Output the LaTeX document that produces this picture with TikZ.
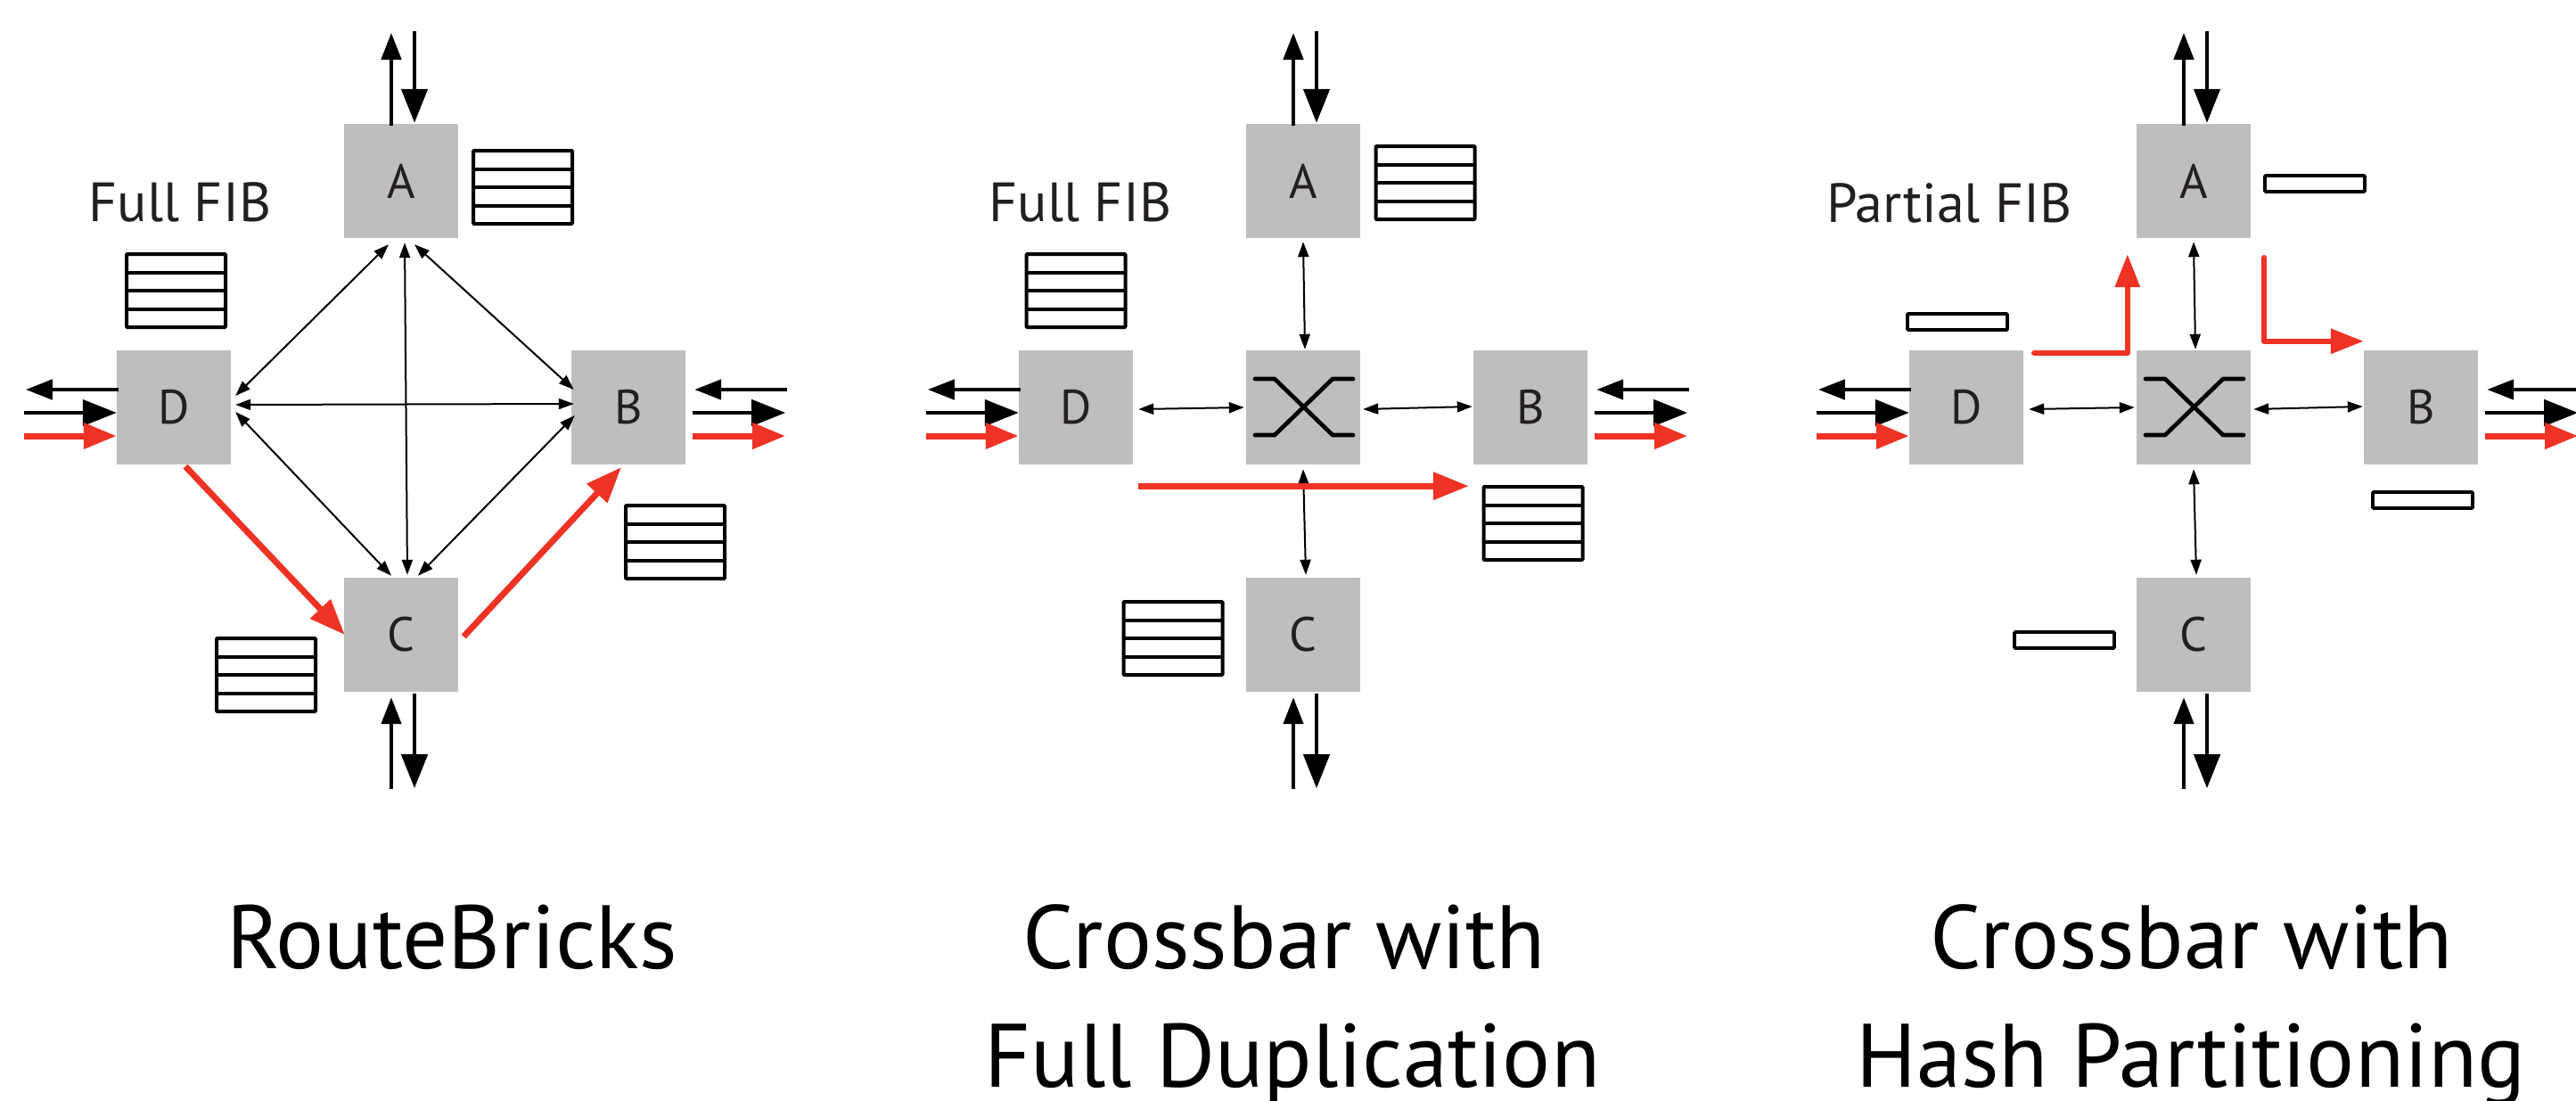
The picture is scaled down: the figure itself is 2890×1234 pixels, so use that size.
\documentclass[tikz,border=0pt]{standalone}
\usepackage{fontspec}
\setmainfont{PT Sans}
\usetikzlibrary{arrows.meta,calc}
\definecolor{boxgray}{RGB}{190,190,190}
\definecolor{fibred}{RGB}{238,50,36}
\definecolor{txtgray}{RGB}{35,31,32}

\newcommand\ioarrows[1]{%
  % top of A
  \coordinate (A#1o) at ($(A#1.north)+(-11,-102)$);
  \coordinate (A#1i) at ($(A#1.north)+(15,-104)$);
  \draw[io,smalltip] ([yshift=-2pt]A#1.north -| A#1o) -- (A#1o);
  \draw[io,bigtip] (A#1i) -- ([yshift=1pt]A#1.north -| A#1i);
  % bottom of C
  \coordinate (C#1i) at ($(C#1.south)+(-11,109)$);
  \coordinate (C#1o) at ($(C#1.south)+(15,108)$);
  \draw[io,smalltip] (C#1i) -- ([yshift=-6pt]C#1.south -| C#1i);
  \draw[io,bigtip] ([yshift=-2pt]C#1.south -| C#1o) -- (C#1o);
  % left of D
  \coordinate (D#1o) at ($(D#1.west)+(-102,-20)$);
  \coordinate (D#1i) at ($(D#1.west)+(-104,6)$);
  \coordinate (D#1r) at ($(D#1.west)+(-104,32)$);
  \draw[io,smalltip] ([xshift=2pt]D#1.west |- D#1o) -- (D#1o);
  \draw[io,bigtip] (D#1i) -- (D#1.west |- D#1i);
  \draw[redio] (D#1r) -- (D#1.west |- D#1r);
  % right of B
  \coordinate (B#1i) at ($(B#1.east)+(114,-20)$);
  \coordinate (B#1o) at ($(B#1.east)+(112,6)$);
  \coordinate (B#1r) at ($(B#1.east)+(112,32)$);
  \draw[io,smalltip] (B#1i) -- ([xshift=10pt]B#1.east |- B#1i);
  \draw[io,bigtip] ([xshift=8pt]B#1.east |- B#1o) -- (B#1o);
  \draw[redio] ([xshift=8pt]B#1.east |- B#1r) -- (B#1r);
}

\newcommand\xbarsym[1]{%
  \draw[xbar] ($(#1.center)+(-54,-32)$) -- ($(#1.center)+(-32,-32)$)
     -- ($(#1.center)+(33,31)$) -- ($(#1.center)+(56,31)$);
  \draw[xbar] ($(#1.center)+(-54,31)$) -- ($(#1.center)+(-32,31)$)
     -- ($(#1.center)+(33,-32)$) -- ($(#1.center)+(56,-32)$);
}

\begin{document}
\begin{tikzpicture}[x=1pt,y=-1pt,
  brick/.style={fill=boxgray, minimum size=128pt, inner sep=0pt, text=txtgray,
     font=\fontsize{54}{60}\selectfont},
  fibtab/.style={draw, line width=4pt, minimum width=111pt, minimum height=82pt,
     inner sep=0pt, rounded corners=1pt,
     path picture={\foreach \f in {0.25,0.5,0.75}
       \draw[line width=4pt] ($(path picture bounding box.north west)!\f!(path picture bounding box.south west)$)
         -- ($(path picture bounding box.north east)!\f!(path picture bounding box.south east)$);}},
  fibbar/.style={draw, line width=3.8pt, minimum width=112pt, minimum height=18pt,
     inner sep=0pt, rounded corners=1pt},
  link/.style={line width=2pt, {Triangle[length=17pt,width=12pt]}-{Triangle[length=17pt,width=12pt]}},
  io/.style={line width=4.5pt},
  bigtip/.style={-{Triangle[length=38pt,width=29pt]}},
  smalltip/.style={-{Triangle[length=30pt,width=22pt]}},
  redio/.style={draw=fibred, line width=7pt, -{Triangle[length=37pt,width=28pt]}},
  redarrow/.style={draw=fibred, line width=7pt, -{Triangle[length=40pt,width=30pt]}},
  redpath/.style={draw=fibred, line width=6.5pt, line cap=round, line join=round,
     -{Triangle[length=37pt,width=27pt]}},
  xbar/.style={line width=4.7pt, line cap=round, line join=round},
  fiblabel/.style={anchor=base, text=txtgray, font=\fontsize{62}{70}\selectfont},
  title/.style={anchor=base, text=black, font=\fontsize{101}{120}\selectfont}
]
\useasboundingbox (0,0) rectangle (2890,1234);

%%%%%%%%%%%%%%%% Panel 1: RouteBricks
\node[brick] (A1) at (450,203) {A};
\node[brick] (B1) at (705,457) {B};
\node[brick] (C1) at (450,712) {C};
\node[brick] (D1) at (195,457) {D};
\ioarrows{1}
\draw[link] ($(A1.south)+(-14,7)$) -- ($(D1.east)+(5,-13)$);
\draw[link] ($(A1.south)+(15,7)$) -- ($(B1.west)+(3,-20)$);
\draw[link] ($(A1.south)+(4,5)$) -- ($(C1.north)+(7,-3)$);
\draw[link] ($(D1.east)+(5,-3)$) -- ($(B1.west)+(3,-4)$);
\draw[link] ($(D1.east)+(5,5)$) -- ($(C1.north)+(-11,-2)$);
\draw[link] ($(B1.west)+(4,9)$) -- ($(C1.north)+(19,-2)$);
\draw[redarrow] ($(D1.south)+(13,2)$) -- ($(C1.west)+(1,0)$);
\draw[redarrow] ($(C1.east)+(6,2)$) -- ($(B1.south)+(-8,3)$);
\node[fibtab] (tA1) at (586.5,210) {};
\node[fibtab] (tD1) at (197.5,326) {};
\node[fibtab] (tB1) at (757.5,608) {};
\node[fibtab] (tC1) at (298.5,757) {};
\node[fiblabel] (L1) at (202,248) {Full FIB};
\node[title] (T1) at (507,1086) {RouteBricks};

%%%%%%%%%%%%%%%% Panel 2: Crossbar with Full Duplication
\node[brick] (A2) at (1462,203) {A};
\node[brick] (B2) at (1717,457) {B};
\node[brick] (C2) at (1462,712) {C};
\node[brick] (D2) at (1207,457) {D};
\node[brick] (X2) at (1462,457) {};
\xbarsym{X2}
\ioarrows{2}
\draw[link] ($(A2.south)+(0,4)$) -- ($(X2.north)+(2,-1)$);
\draw[link] ($(D2.east)+(6,2)$) -- ($(X2.west)+(-2,0)$);
\draw[link] ($(X2.east)+(3,2)$) -- ($(B2.west)+(-1,-1)$);
\draw[link] ($(X2.south)+(0,5)$) -- ($(C2.north)+(3,-3)$);
\draw[redarrow] ($(D2.south east)+(6,24)$) -- ($(B2.south west)+(-5,24)$);
\node[fibtab] (tA2) at (1599,205) {};
\node[fibtab] (tD2) at (1207,326) {};
\node[fibtab] (tB2) at (1720,587) {};
\node[fibtab] (tC2) at (1316,716) {};
\node[fiblabel] (L2) at (1212,248) {Full FIB};
\node[title] (T2a) at (1441,1086) {Crossbar with};
\node[title] (T2b) at (1450,1219) {Full Duplication};

%%%%%%%%%%%%%%%% Panel 3: Crossbar with Hash Partitioning
\node[brick] (A3) at (2461,203) {A};
\node[brick] (B3) at (2716,457) {B};
\node[brick] (C3) at (2461,712) {C};
\node[brick] (D3) at (2206,457) {D};
\node[brick] (X3) at (2461,457) {};
\xbarsym{X3}
\ioarrows{3}
\draw[link] ($(A3.south)+(0,4)$) -- ($(X3.north)+(2,-1)$);
\draw[link] ($(D3.east)+(6,2)$) -- ($(X3.west)+(-2,0)$);
\draw[link] ($(X3.east)+(3,2)$) -- ($(B3.west)+(-1,-1)$);
\draw[link] ($(X3.south)+(0,5)$) -- ($(C3.north)+(3,-3)$);
\draw[redpath] ($(D3.north east)+(12,3)$) -| ($(A3.south west)+(-10,18)$);
\draw[redpath] ($(A3.south east)+(15,22)$) |- ($(B3.north west)+(0,-10)$);
\node[fibbar] (tA3) at (2597,206) {};
\node[fibbar] (tD3) at (2196,361) {};
\node[fibbar] (tB3) at (2718,561) {};
\node[fibbar] (tC3) at (2316,718) {};
\node[fiblabel] (L3) at (2187,249) {Partial FIB};
\node[title] (T3a) at (2459,1086) {Crossbar with};
\node[title] (T3b) at (2458,1219) {Hash Partitioning};
\end{tikzpicture}
\end{document}
